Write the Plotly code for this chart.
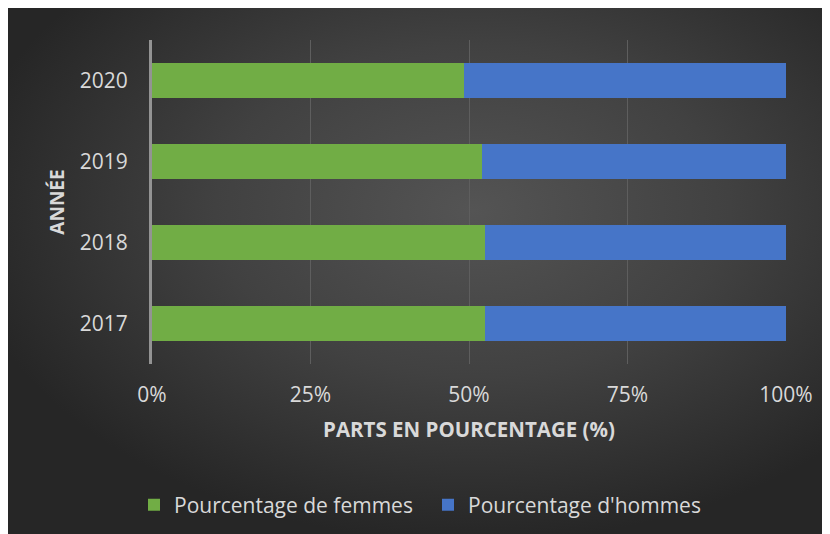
import plotly.graph_objects as go
import base64

annees = ["2017", "2018", "2019", "2020"]
femmes = [52.5, 52.5, 52.0, 49.2]
hommes = [47.5, 47.5, 48.0, 50.8]
x_ticks = [0, 25, 50, 75, 100]
x_tick_labels = ["0%", "25%", "50%", "75%", "100%"]

W, H = 830, 534
L, T = 144, 32
pw, ph = 634, 324
R, B = W - L - pw, H - T - ph

svg = (
    '<svg xmlns="http://www.w3.org/2000/svg" width="830" height="534" viewBox="0 0 830 534" preserveAspectRatio="none">'
    '<defs><radialGradient id="g" cx="0.56" cy="0.38" r="0.62" gradientUnits="objectBoundingBox">'
    '<stop offset="0" stop-color="#545454"/><stop offset="0.5" stop-color="#414141"/>'
    '<stop offset="1" stop-color="#262626"/></radialGradient></defs>'
    '<rect width="830" height="534" fill="url(#g)"/></svg>'
)
bg_src = "data:image/svg+xml;base64," + base64.b64encode(svg.encode()).decode()

fig = go.Figure()
fig.add_trace(go.Bar(y=annees, x=femmes, orientation="h", name="Pourcentage de femmes",
                     marker=dict(color="#71ad45", line=dict(width=0))))
fig.add_trace(go.Bar(y=annees, x=hommes, orientation="h", name="Pourcentage d'hommes",
                     marker=dict(color="#4675c8", line=dict(width=0))))

font = "'Open Sans', sans-serif"
fig.update_layout(
    width=W, height=H,
    margin=dict(l=L, r=R, t=T, b=B, pad=0),
    paper_bgcolor="#2a2a2a", plot_bgcolor="rgba(0,0,0,0)",
    barmode="stack", bargap=0.576,
    font=dict(family=font, color="#d9d9d9"),
    images=[dict(source=bg_src, xref="paper", yref="paper",
                 x=-L / pw, y=1 + T / ph,
                 sizex=W / pw, sizey=H / ph,
                 xanchor="left", yanchor="top", sizing="stretch", layer="below")],
    xaxis=dict(range=[0, 100], tickvals=x_ticks, ticktext=x_tick_labels,
               showgrid=True, gridcolor="#5e5e5e", gridwidth=1,
               zeroline=False, showline=False,
               ticks="outside", ticklen=12, tickcolor="rgba(0,0,0,0)",
               tickfont=dict(size=21, color="#d9d9d9"),
               title=dict(text="<b>PARTS EN POURCENTAGE (%)</b>",
                          font=dict(size=20.5, color="#d9d9d9"), standoff=15)),
    yaxis=dict(showgrid=False, showline=True, linecolor="#939393", linewidth=3,
               zeroline=False, ticks="outside", ticklen=17, tickcolor="rgba(0,0,0,0)",
               tickfont=dict(size=21, color="#d9d9d9"),
               title=dict(text="<b>ANNÉE</b>", font=dict(size=19, color="#d9d9d9"), standoff=11)),
    legend=dict(orientation="h", x=-18 / pw, xanchor="left", y=1 - (497 - T) / ph, yanchor="middle",
                font=dict(size=21, color="#d9d9d9"), bgcolor="rgba(0,0,0,0)",
                itemwidth=30, traceorder="normal", entrywidth=249),
)
fig.write_html("out.html")
